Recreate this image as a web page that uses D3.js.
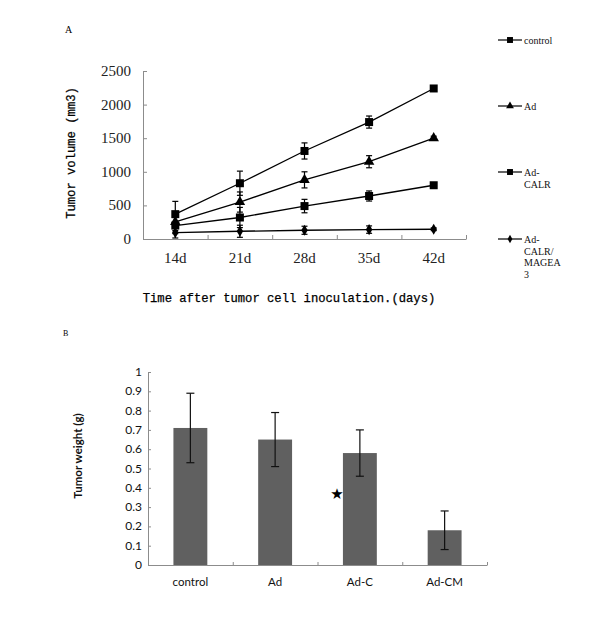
<!DOCTYPE html>
<html><head><meta charset="utf-8">
<script src="https://cdn.jsdelivr.net/npm/d3@7"></script>
<style>body{margin:0;background:#fff}svg{display:block}</style>
</head><body>
<script>
// ---- Data (panel A) ----
const days = ["14d","21d","28d","35d","42d"];
const seriesNames = ["control","Ad","Ad-CALR","Ad-CALR/MAGEA3"];
const legendLines = [["control"],["Ad"],["Ad-","CALR"],["Ad-","CALR/","MAGEA","3"]];
const controlVals = [370, 830, 1310, 1740, 2240];
const controlErr  = [190, 180, 120, 90, 20];
const adVals      = [255, 550, 880, 1150, 1500];
const adErr       = [130, 150, 120, 90, 30];
const calrVals    = [200, 320, 490, 640, 800];
const calrErr     = [120, 150, 100, 75, 20];
const mageaVals   = [95, 115, 130, 140, 145];
const mageaErr    = [80, 90, 60, 55, 20];
const volTicks = [0, 500, 1000, 1500, 2000, 2500];

// ---- Data (panel B) ----
const groups = ["control","Ad","Ad-C","Ad-CM"];
const weights = [0.71, 0.65, 0.58, 0.18];
const weightErr = [0.18, 0.14, 0.12, 0.10];
const weightTicks = [0,0.1,0.2,0.3,0.4,0.5,0.6,0.7,0.8,0.9,1];
const starValue = 0.37;

const svg = d3.select("body").append("svg").attr("width",600).attr("height",642);

// ================= Panel A =================
const series = [
  {vals: controlVals, err: controlErr, sym: d3.symbolSquare, size: 64},
  {vals: adVals, err: adErr, sym: d3.symbolTriangle, size: 48},
  {vals: calrVals, err: calrErr, sym: d3.symbolSquare, size: 64},
  {vals: mageaVals, err: mageaErr, sym: d3.symbolDiamond, size: 36}
];
const xA = d3.scaleBand().domain(days).range([143, 466]);
const yA = d3.scaleLinear().domain([0, 2500]).range([239, 71]);
const axisCol = "#8c8c8c";

svg.append("text").attr("x",65).attr("y",33).attr("font-family","Liberation Serif").attr("font-size",10).text("A");

const gy = svg.append("g").attr("transform","translate(143,0)")
  .call(d3.axisRight(yA).tickValues(volTicks).tickSize(4).tickFormat(""));
gy.selectAll("path,line").attr("stroke",axisCol);
svg.append("g").selectAll("text").data(volTicks).join("text")
  .attr("x",131).attr("y",d=>yA(d)+5).attr("text-anchor","end")
  .attr("font-family","Liberation Serif").attr("font-size",15).attr("fill","#222").text(d=>d);

const gx = svg.append("g").attr("transform","translate(0,239)")
  .call(d3.axisTop(d3.scaleLinear().domain([0,5]).range([143,466])).tickValues([1,2,3,4,5]).tickSize(4).tickFormat("").tickSizeOuter(0));
gx.selectAll("path,line").attr("stroke",axisCol);
svg.append("g").selectAll("text").data(days).join("text")
  .attr("x",d=>xA(d)+xA.bandwidth()/2).attr("y",263).attr("text-anchor","middle")
  .attr("font-family","Liberation Serif").attr("font-size",15).attr("fill","#222").text(d=>d);

svg.append("text").attr("x",289).attr("y",302).attr("text-anchor","middle")
  .attr("font-family","Liberation Mono").attr("font-size",12.2).attr("fill","#000")
  .attr("stroke","#000").attr("stroke-width",0.25)
  .text("Time after tumor cell inoculation.(days)");
svg.append("text").attr("transform","translate(75,153) rotate(-90)").attr("text-anchor","middle")
  .attr("font-family","Liberation Mono").attr("font-size",12.2).attr("fill","#000")
  .attr("stroke","#000").attr("stroke-width",0.25)
  .text("Tumor volume (mm3)");

const cx = d => xA(d) + xA.bandwidth()/2;
series.forEach(s => {
  const g = svg.append("g");
  g.append("path").datum(s.vals)
    .attr("d", d3.line().x((v,i)=>cx(days[i])).y(v=>yA(v)))
    .attr("fill","none").attr("stroke","#000").attr("stroke-width",1.3);
  s.vals.forEach((v,i) => {
    const x = cx(days[i]);
    const y1 = yA(v + s.err[i]), y2 = yA(Math.max(0, v - s.err[i]));
    g.append("line").attr("x1",x).attr("x2",x).attr("y1",y1).attr("y2",y2).attr("stroke","#000").attr("stroke-width",1.2);
    [y1,y2].forEach(yy => g.append("line").attr("x1",x-3).attr("x2",x+3).attr("y1",yy).attr("y2",yy).attr("stroke","#000").attr("stroke-width",1.2));
    g.append("path").attr("d", d3.symbol().type(s.sym).size(s.size)())
      .attr("transform",`translate(${x},${yA(v)})`).attr("fill","#000");
  });
});

// Legend
const legY = [40, 106, 172, 239];
series.forEach((s,i) => {
  const g = svg.append("g").attr("transform",`translate(0,${legY[i]})`);
  g.append("line").attr("x1",498).attr("x2",522).attr("y1",0).attr("y2",0).attr("stroke","#000").attr("stroke-width",1.2);
  g.append("path").attr("d", d3.symbol().type(s.sym).size(s.size*0.55)()).attr("transform","translate(510,0)").attr("fill","#000");
  legendLines[i].forEach((t,j) => g.append("text").attr("x",524).attr("y",4 + j*11.7)
    .attr("font-family","Liberation Serif").attr("font-size",10).attr("fill","#111").text(t));
});

// ================= Panel B =================
svg.append("text").attr("x",63).attr("y",336).attr("font-family","Liberation Serif").attr("font-size",8).text("B");

const xB = d3.scaleBand().domain(groups).range([148, 487]).paddingInner(0.6).paddingOuter(0.3);
const xBt = d3.scaleLinear().domain([0,4]).range([148,487]);
const yB = d3.scaleLinear().domain([0, 1]).range([565, 372]);

svg.append("g").selectAll("rect").data(groups).join("rect")
  .attr("x",d=>xB(d)).attr("width",xB.bandwidth())
  .attr("y",(d,i)=>yB(weights[i])).attr("height",(d,i)=>yB(0)-yB(weights[i]))
  .attr("fill","#606060");

const gyB = svg.append("g").attr("transform","translate(148,0)")
  .call(d3.axisRight(yB).tickValues(weightTicks).tickSize(3).tickFormat("").tickSizeOuter(0));
gyB.selectAll("path,line").attr("stroke",axisCol);
svg.append("g").selectAll("text").data(weightTicks).join("text")
  .attr("x",142).attr("y",d=>yB(d)+4).attr("text-anchor","end")
  .attr("font-family","Lato").attr("font-size",12).attr("fill","#111").text(d=>d3.format("~g")(d));

const gxB = svg.append("g").attr("transform","translate(0,565)")
  .call(d3.axisTop(xBt).tickValues([1,2,3,4]).tickSize(3).tickFormat("").tickSizeOuter(0));
gxB.selectAll("path,line").attr("stroke",axisCol);
svg.append("g").selectAll("text").data(groups).join("text")
  .attr("x",d=>xB(d)+xB.bandwidth()/2).attr("y",586).attr("text-anchor","middle")
  .attr("font-family","Lato").attr("font-size",11.5).attr("fill","#111").text(d=>d);

groups.forEach((d,i) => {
  const x = xB(d)+xB.bandwidth()/2;
  const y1 = yB(weights[i]+weightErr[i]), y2 = yB(weights[i]-weightErr[i]);
  svg.append("line").attr("x1",x).attr("x2",x).attr("y1",y1).attr("y2",y2).attr("stroke","#111").attr("stroke-width",1.2);
  [y1,y2].forEach(yy => svg.append("line").attr("x1",x-4).attr("x2",x+4).attr("y1",yy).attr("y2",yy).attr("stroke","#111").attr("stroke-width",1.2));
});

svg.append("text").attr("x",xB("Ad-C")-6).attr("y",yB(starValue)+5).attr("text-anchor","middle")
  .attr("font-family","DejaVu Sans").attr("font-size",15).attr("fill","#000").text("★");

svg.append("text").attr("transform","translate(82,456) rotate(-90)").attr("text-anchor","middle")
  .attr("font-family","Lato").attr("font-weight","bold").attr("font-size",11.5).attr("fill","#111")
  .text("Tumor weight (g)");
</script>
</body></html>
